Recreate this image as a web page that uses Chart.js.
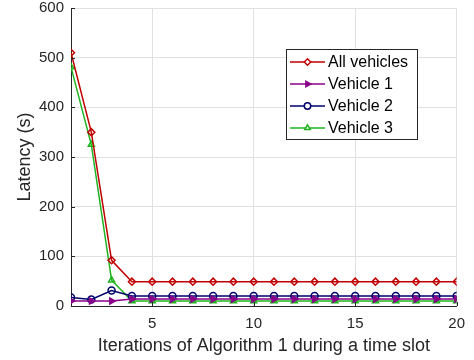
<!DOCTYPE html>
<html>
<head>
<meta charset="utf-8">
<script src="https://cdn.jsdelivr.net/npm/chart.js@4/dist/chart.umd.min.js"></script>
<style>
  html, body { margin: 0; padding: 0; background: #fff; }
  #wrap { width: 474px; height: 360px; }
</style>
</head>
<body>
<div id="wrap"><canvas id="latencyChart" width="474" height="360"></canvas></div>
<script>
// Iterations of Algorithm 1 and latency readings (s)
const iterations = [1, 2, 3, 4, 5, 6, 7, 8, 9, 10, 11, 12, 13, 14, 15, 16, 17, 18, 19, 20];
const allVehicles = [510, 350, 92, 49, 49, 49, 49, 49, 49, 49, 49, 49, 49, 49, 49, 49, 49, 49, 49, 49];
const vehicle1 = [10, 10, 10, 14, 14, 14, 14, 14, 14, 14, 14, 14, 14, 14, 14, 14, 14, 14, 14, 14];
const vehicle2 = [17, 13, 31, 20, 20, 20, 20, 20, 20, 20, 20, 20, 20, 20, 20, 20, 20, 20, 20, 20];
const vehicle3 = [481, 325, 52, 10, 10, 10, 10, 10, 10, 10, 10, 10, 10, 10, 10, 10, 10, 10, 10, 10];
const xTicks = [5, 10, 15, 20];
const yTicks = [0, 100, 200, 300, 400, 500, 600];

const FONT = 'Liberation Sans, Arial, sans-serif';
const AXIS = '#262626';

function series(label, values, color, style, rotation, fill) {
  return {
    label,
    data: values.map((v, i) => ({ x: iterations[i], y: v })),
    borderColor: color,
    backgroundColor: fill ? color : 'rgba(0,0,0,0)',
    pointBorderColor: color,
    pointBackgroundColor: fill ? color : 'rgba(0,0,0,0)',
    borderWidth: 1.5,
    pointBorderWidth: 1.5,
    pointRadius: 3.5,
    pointStyle: style,
    pointRotation: rotation,
    tension: 0,
  };
}

// MATLAB-style boxed legend with line + marker samples
const boxLegend = {
  id: 'boxLegend',
  afterDatasetsDraw(chart) {
    const ctx = chart.ctx;
    const x0 = 286, y0 = 49, w = 131, h = 90;
    ctx.save();
    ctx.fillStyle = '#fff';
    ctx.fillRect(x0, y0, w, h);
    ctx.strokeStyle = AXIS;
    ctx.lineWidth = 1;
    ctx.strokeRect(x0 + 0.5, y0 + 0.5, w, h);
    ctx.font = '16px ' + FONT;
    ctx.textBaseline = 'middle';
    chart.data.datasets.forEach((ds, i) => {
      const y = 62 + i * 22;
      ctx.strokeStyle = ds.borderColor;
      ctx.lineWidth = 1.5;
      ctx.beginPath();
      ctx.moveTo(290, y);
      ctx.lineTo(325, y);
      ctx.stroke();
      ctx.fillStyle = ds.pointBackgroundColor === 'rgba(0,0,0,0)' ? '#fff' : ds.pointBackgroundColor;
      Chart.helpers.drawPoint(ctx, {
        pointStyle: ds.pointStyle,
        rotation: ds.pointRotation,
        radius: 3.2,
        borderWidth: 1.5,
      }, 307.5, y);
      ctx.fillStyle = '#000';
      ctx.fillText(ds.label, 328, y + 0.5);
    });
    ctx.restore();
  }
};

// inward tick marks on the left and bottom axes
const innerTicks = {
  id: 'innerTicks',
  afterDraw(chart) {
    const { ctx, chartArea: a, scales } = chart;
    ctx.save();
    ctx.strokeStyle = AXIS;
    ctx.lineWidth = 1;
    ctx.beginPath();
    yTicks.forEach(v => {
      const y = Math.round(scales.y.getPixelForValue(v)) + 0.5;
      ctx.moveTo(a.left, y);
      ctx.lineTo(a.left + 4, y);
    });
    xTicks.forEach(v => {
      const x = Math.round(scales.x.getPixelForValue(v)) + 0.5;
      ctx.moveTo(x, a.bottom);
      ctx.lineTo(x, a.bottom - 4);
    });
    ctx.stroke();
    ctx.restore();
  }
};

new Chart(document.getElementById('latencyChart'), {
  type: 'line',
  data: {
    datasets: [
      series('All vehicles', allVehicles, '#c00000', 'rectRot', 0, false),
      series('Vehicle 1', vehicle1, '#8a008a', 'triangle', 90, true),
      series('Vehicle 2', vehicle2, '#00006e', 'circle', 0, false),
      series('Vehicle 3', vehicle3, '#1fb41f', 'triangle', 0, false),
    ]
  },
  options: {
    responsive: false,
    animation: false,
    layout: { padding: { top: 0, right: 14, left: 0, bottom: 0 } },
    plugins: {
      legend: { display: false },
      tooltip: { enabled: false },
    },
    scales: {
      x: {
        type: 'linear',
        min: 1,
        max: 20,
        afterBuildTicks: (s) => { s.ticks = xTicks.map(v => ({ value: v })); },
        afterFit: (s) => { s.height = 54; },
        grid: { color: '#e0e0e0', drawTicks: false },
        border: { color: AXIS, width: 1 },
        ticks: { color: '#262626', font: { family: FONT, size: 15 }, padding: 9, maxRotation: 0 },
        title: {
          display: true,
          text: 'Iterations of Algorithm 1 during a time slot',
          color: '#262626',
          font: { family: FONT, size: 18 },
          padding: { top: 0, bottom: 3 },
        },
      },
      y: {
        min: 0,
        max: 600,
        afterBuildTicks: (s) => { s.ticks = yTicks.map(v => ({ value: v })); },
        afterFit: (s) => { s.width = 71; s.paddingTop = 8; s.paddingBottom = 0; },
        grid: { color: '#e0e0e0', drawTicks: false },
        border: { color: AXIS, width: 1 },
        ticks: { color: '#262626', font: { family: FONT, size: 15 }, padding: 7 },
        title: {
          display: true,
          text: 'Latency (s)',
          color: '#262626',
          font: { family: FONT, size: 18 },
          padding: { top: 14, bottom: 0 },
        },
      },
    },
  },
  plugins: [innerTicks, boxLegend],
});
</script>
</body>
</html>
